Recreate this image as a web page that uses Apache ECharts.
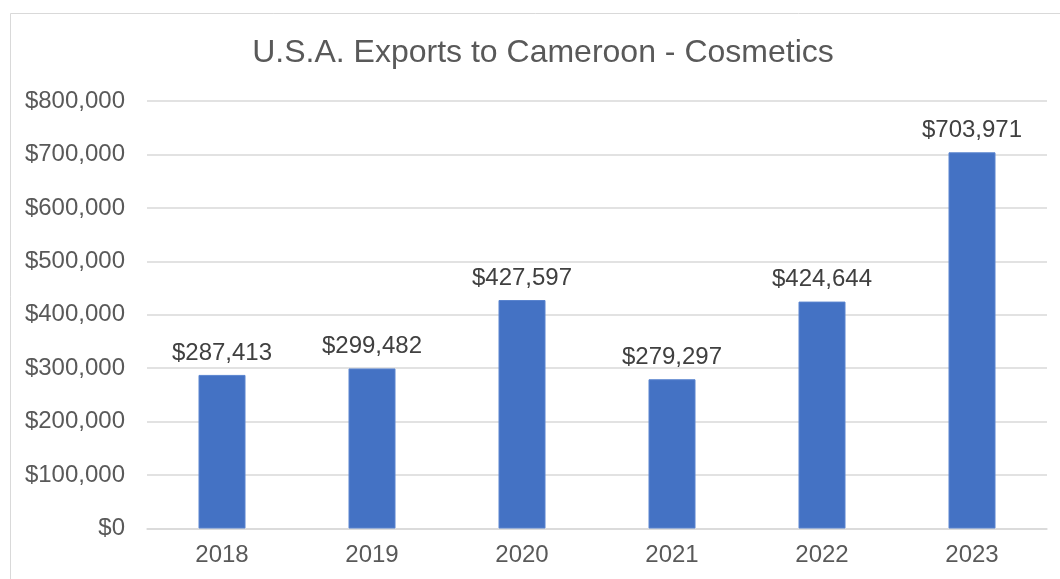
<!DOCTYPE html>
<html>
<head>
<meta charset="utf-8">
<script src="https://cdn.jsdelivr.net/npm/echarts@6/dist/echarts.min.js"></script>
<style>
  html, body { margin: 0; padding: 0; background: #fff; }
  #chart { width: 1060px; height: 579px; }
</style>
</head>
<body>
<div id="chart"></div>
<script>
// Annual U.S. cosmetics exports to Cameroon (USD)
const years = ['2018', '2019', '2020', '2021', '2022', '2023'];
const exportValues = [287413, 299482, 427597, 279297, 424644, 703971];
const yTicks = { min: 0, max: 800000, interval: 100000 };

const fmtUSD = v => '$' + Math.round(v).toLocaleString('en-US');
const FONT = '"Liberation Sans", Arial, sans-serif';

const chart = echarts.init(document.getElementById('chart'), null, { renderer: 'canvas' });
chart.setOption({
  backgroundColor: '#ffffff',
  animation: false,
  graphic: [{
    type: 'rect',
    left: 8, top: 11,
    shape: { width: 1070, height: 590 },
    style: { fill: 'none', stroke: '#d9d9d9', lineWidth: 1 },
    silent: true
  }],
  title: {
    text: 'U.S.A. Exports to Cameroon - Cosmetics',
    // centred over the framed chart area rather than the window
    left: 538,
    textAlign: 'center',
    top: 32,
    textStyle: { fontFamily: FONT, fontSize: 32, fontWeight: 'normal', color: '#595959' }
  },
  grid: { left: 147, right: 13, top: 101, bottom: 50.5, containLabel: false },
  xAxis: {
    type: 'category',
    data: years,
    axisLine: { show: true, lineStyle: { color: '#d9d9d9', width: 1.5 } },
    axisTick: { show: false },
    axisLabel: { fontFamily: FONT, fontSize: 24, color: '#595959', margin: 15 }
  },
  yAxis: {
    type: 'value',
    min: yTicks.min, max: yTicks.max, interval: yTicks.interval,
    axisLine: { show: false },
    axisTick: { show: false },
    splitLine: { lineStyle: { color: '#d9d9d9', width: 1.5 } },
    axisLabel: { fontFamily: FONT, fontSize: 24, color: '#595959', margin: 22, formatter: fmtUSD }
  },
  series: [{
    type: 'bar',
    data: exportValues,
    barWidth: 47,
    itemStyle: { color: '#4472c4', borderColor: '#5a84cf', borderWidth: 1 },
    label: {
      show: true,
      position: 'top',
      distance: 10,
      fontFamily: FONT, fontSize: 24, color: '#404040',
      formatter: p => fmtUSD(p.value)
    }
  }]
});
</script>
</body>
</html>
